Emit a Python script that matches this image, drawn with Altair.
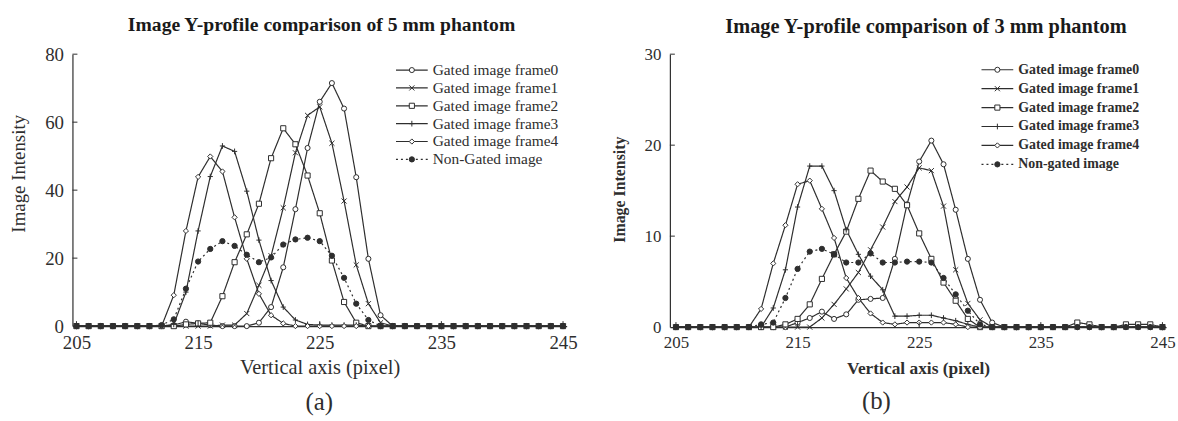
import altair as alt
import pandas as pd

# ---------------- data ----------------
x_pixels = [205, 206, 207, 208, 209, 210, 211, 212, 213, 214, 215, 216, 217, 218,
            219, 220, 221, 222, 223, 224, 225, 226, 227, 228, 229, 230, 231, 232,
            233, 234, 235, 236, 237, 238, 239, 240, 241, 242, 243, 244, 245]

series_keys = ["f0", "f1", "f2", "f3", "f4", "ng"]
labels_a = ["Gated image frame0", "Gated image frame1", "Gated image frame2",
            "Gated image frame3", "Gated image frame4", "Non-Gated image"]
labels_b = ["Gated image frame0", "Gated image frame1", "Gated image frame2",
            "Gated image frame3", "Gated image frame4", "Non-gated image"]

# (a) 5 mm phantom
a_f0 = [0, 0, 0, 0, 0, 0, 0, 0,
        0.3, 1.3, 0.8, 0.3, 0, 0, 0, 1.0, 5.6, 17.3, 34.4, 52.4, 66.0, 71.5, 64.0, 43.8, 19.8, 3.2, 0,
        0, 0, 0, 0, 0, 0, 0, 0, 0, 0, 0, 0, 0, 0]
a_f1 = [0, 0, 0, 0, 0, 0, 0, 0,
        0, 0, 0, 0, 0.3, 0.3, 3.7, 12.0, 20.7, 34.8, 51.0, 62.0, 64.5, 53.8, 36.8, 18.0, 6.6, 1.0, 0,
        0, 0, 0, 0, 0, 0, 0, 0, 0, 0, 0, 0, 0, 0]
a_f2 = [0, 0, 0, 0, 0, 0, 0, 0,
        0, 0.5, 0.8, 1.0, 8.8, 18.8, 27.0, 36.0, 49.4, 58.2, 53.5, 44.3, 33.2, 19.3, 7.1, 1.0, 0, 0, 0,
        0, 0, 0, 0, 0, 0, 0, 0, 0, 0, 0, 0, 0, 0]
a_f3 = [0, 0, 0, 0, 0, 0, 0, 0,
        0.5, 10.0, 28.0, 44.0, 53.0, 51.4, 39.7, 25.3, 13.4, 5.6, 1.8, 0.5, 0.3, 0.3, 0.3, 0.3, 0, 0, 0,
        0, 0, 0, 0, 0, 0, 0, 0, 0, 0, 0, 0, 0, 0]
a_f4 = [0, 0, 0, 0, 0, 0, 0, 0,
        9.1, 28.0, 43.9, 49.9, 45.5, 32.0, 19.8, 9.5, 3.2, 0.8, 0, 0, 0, 0, 0, 0, 0, 0, 0,
        0, 0, 0, 0, 0, 0, 0, 0, 0, 0, 0, 0, 0, 0]
a_ng = [0, 0, 0, 0, 0, 0, 0, 0.3,
        2.0, 11.0, 19.0, 22.7, 25.0, 23.6, 21.0, 18.8, 20.2, 24.0, 25.5, 26.0, 25.0, 20.7, 14.2, 6.6, 1.8, 0, 0,
        0, 0, 0, 0, 0, 0, 0, 0, 0, 0, 0, 0, 0, 0]

# (b) 3 mm phantom
b_f0 = [0, 0, 0, 0, 0, 0, 0, 0,
        0, 0, 0.5, 1.0, 1.7, 0.9, 1.4, 3.0, 3.1, 3.2, 7.5, 13.5, 18.2, 20.5, 17.9, 12.9, 7.5, 3.0, 0.5,
        0, 0, 0, 0, 0, 0, 0, 0, 0, 0, 0, 0, 0, 0]
b_f1 = [0, 0, 0, 0, 0, 0, 0, 0,
        0, 0, 0, 0, 1.0, 2.5, 4.2, 6.0, 8.5, 11.0, 13.8, 15.4, 17.5, 17.2, 13.3, 6.3, 2.6, 0.8, 0,
        0, 0, 0, 0, 0, 0, 0, 0, 0, 0, 0, 0, 0, 0]
b_f2 = [0, 0, 0, 0, 0, 0, 0, 0,
        0, 0.3, 0.9, 2.5, 5.3, 8.0, 10.5, 14.1, 17.2, 16.0, 15.2, 13.4, 10.3, 7.5, 4.9, 2.9, 0.9, 0, 0,
        0, 0, 0, 0, 0, 0, 0.5, 0.3, 0, 0, 0.3, 0.3, 0.3, 0]
b_f3 = [0, 0, 0, 0, 0, 0, 0, 0,
        2.1, 6.3, 13.2, 17.7, 17.7, 15.0, 10.7, 8.0, 5.6, 4.1, 1.2, 1.2, 1.3, 1.3, 1.0, 0.7, 0.3, 0, 0,
        0, 0, 0, 0, 0, 0, 0, 0, 0, 0, 0, 0, 0, 0]
b_f4 = [0, 0, 0, 0, 0, 0, 0, 2.0,
        7.0, 11.2, 15.7, 16.1, 13.0, 9.8, 5.4, 3.2, 1.5, 0.5, 0.3, 0.5, 0.5, 0.5, 0.5, 0.3, 0, 0, 0,
        0, 0, 0, 0, 0, 0, 0, 0, 0, 0, 0, 0, 0, 0]
b_ng = [0, 0, 0, 0, 0, 0, 0, 0.3,
        0.5, 3.2, 6.4, 8.3, 8.6, 8.0, 7.1, 7.1, 8.1, 7.1, 7.1, 7.2, 7.2, 7.1, 5.4, 3.6, 1.8, 0.3, 0,
        0, 0, 0, 0, 0, 0, 0, 0, 0, 0, 0, 0, 0, 0]

x_ticks = [205, 215, 225, 235, 245]
y_ticks_a = [0, 20, 40, 60, 80]
y_ticks_b = [0, 10, 20, 30]

# ---------------- styling ----------------
SERIF = "Liberation Serif"
INK = "#2e2e2e"
shape_range = ["circle", "M-1,-1L1,1M-1,1L1,-1", "square", "M0,-1.1L0,1.1M-1,0L1,0", "diamond", "circle"]
fill_range = ["white", "white", "white", "white", "white", INK]
size_range = [26, 28, 24, 40, 30, 20]
dash_range = [[1, 0], [1, 0], [1, 0], [1, 0], [1, 0], [2, 3]]


def long_df(vals_list):
    rows = []
    for key, vals in zip(series_keys, vals_list):
        for x, v in zip(x_pixels, vals):
            rows.append({"x": x, "value": v, "series": key})
    return pd.DataFrame(rows)


def panel(df, labels, yvals, w, h, xdom, title, title_size, title_dx, bold, ylab_size, ytitle_size,
          ytitle_x, ytitle_y, xlab_size, xtitle_size, leg_x0, leg_x1, leg_tx, leg_range, leg_font,
          tag, tag_dx, title_offset):
    weight = "bold" if bold else "normal"
    xs = alt.Scale(domain=xdom, nice=False, zero=False)
    ys = alt.Scale(domain=[yvals[0], yvals[-1]], nice=False)
    shape_s = alt.Scale(domain=series_keys, range=shape_range)
    fill_s = alt.Scale(domain=series_keys, range=fill_range)
    size_s = alt.Scale(domain=series_keys, range=size_range)
    dash_s = alt.Scale(domain=series_keys, range=dash_range)

    base = alt.Chart(df)
    lines = base.mark_line(strokeWidth=1.2, color=INK).encode(
        x=alt.X("x:Q", scale=xs, axis=alt.Axis(
            values=x_ticks, ticks=False, grid=False, domainColor=INK, domainWidth=1.2,
            labelFont=SERIF, labelFontSize=xlab_size, labelColor=INK, labelPadding=8,
            title="Vertical axis (pixel)", titleFont=SERIF, titleFontSize=xtitle_size,
            titleFontWeight=weight, titleColor=INK, titleY=42, titleBaseline="middle")),
        y=alt.Y("value:Q", scale=ys, axis=alt.Axis(
            values=yvals, ticks=False, grid=False, domainColor=INK, domainWidth=1.2,
            labelFont=SERIF, labelFontSize=ylab_size, labelColor=INK, labelPadding=9,
            title="Image Intensity", titleFont=SERIF, titleFontSize=ytitle_size,
            titleFontWeight=weight, titleColor=INK, titleX=ytitle_x, titleY=ytitle_y,
            titleAngle=-90, titleAlign="center", titleBaseline="middle")),
        detail="series:N",
        strokeDash=alt.StrokeDash("series:N", scale=dash_s, legend=None),
    )
    points = base.mark_point(filled=True, stroke=INK, strokeWidth=1, opacity=1).encode(
        x=alt.X("x:Q", scale=xs),
        y=alt.Y("value:Q", scale=ys, axis=None),
        shape=alt.Shape("series:N", scale=shape_s, legend=None),
        fill=alt.Fill("series:N", scale=fill_s, legend=None),
        size=alt.Size("series:N", scale=size_s, legend=None),
    )
    ytick_df = pd.DataFrame({"t": yvals[1:]})
    yticks = alt.Chart(ytick_df).mark_rule(color=INK, strokeWidth=1).encode(
        y=alt.Y("t:Q", scale=ys, axis=None), x=alt.value(0), x2=alt.value(5))
    xtick_df = pd.DataFrame({"t": x_ticks})
    xticks = alt.Chart(xtick_df).mark_rule(color=INK, strokeWidth=1).encode(
        x=alt.X("t:Q", scale=xs), y=alt.value(h), y2=alt.value(h - 5))

    leg_df = pd.DataFrame({"series": series_keys, "label": labels, "rank": [0, 1, 2, 3, 4, 5]})
    ls = alt.Scale(domain=[0, 5], range=leg_range)
    leg_rule = alt.Chart(leg_df).mark_rule(color=INK, strokeWidth=1.2).encode(
        x=alt.value(leg_x0), x2=alt.value(leg_x1),
        y=alt.Y("rank:Q", scale=ls, axis=None),
        strokeDash=alt.StrokeDash("series:N", scale=dash_s, legend=None))
    leg_pt = alt.Chart(leg_df).mark_point(filled=True, stroke=INK, strokeWidth=1, opacity=1).encode(
        x=alt.value((leg_x0 + leg_x1) / 2),
        y=alt.Y("rank:Q", scale=ls, axis=None),
        shape=alt.Shape("series:N", scale=shape_s, legend=None),
        fill=alt.Fill("series:N", scale=fill_s, legend=None),
        size=alt.Size("series:N", scale=size_s, legend=None))
    leg_txt = alt.Chart(leg_df).mark_text(
        align="left", baseline="middle", font=SERIF, fontSize=leg_font,
        fontWeight=weight, color=INK).encode(
        x=alt.value(leg_tx), y=alt.Y("rank:Q", scale=ls, axis=None), text="label:N")

    layered = alt.layer(lines, points, yticks, xticks, leg_rule, leg_pt, leg_txt).resolve_scale(
        y="independent").properties(
        width=w, height=h,
        title=alt.TitleParams(title, font=SERIF, fontSize=title_size, fontWeight="bold", color="#1a1a1a",
                              anchor="middle", frame="group", offset=title_offset, dx=title_dx))
    return alt.vconcat(layered, title=alt.TitleParams(
        tag, orient="bottom", font=SERIF, fontSize=25, fontWeight="normal", color=INK,
        anchor="middle", offset=12, dx=tag_dx))


left = panel(long_df([a_f0, a_f1, a_f2, a_f3, a_f4, a_ng]), labels_a, y_ticks_a,
             498, 274, [204.67, 245.3], "Image Y-profile comparison of 5 mm phantom", 19.8, 2, False,
             19, 19, -54, 120, 19, 20.5, 326, 358, 363, [16, 106], 15.5, "(a)", 26, 11)
right = panel(long_df([b_f0, b_f1, b_f2, b_f3, b_f4, b_ng]), labels_b, y_ticks_b,
              500, 275, [204.5, 245.3], "Image Y-profile comparison of 3 mm phantom", 20.5, 8, True,
              17, 16, -51, 136, 17, 17.5, 314, 346, 351, [15.7, 111], 14, "(b)", -17, 8)

chart = alt.hconcat(left, right, spacing=34).properties(
    padding={"left": 10, "top": 13, "right": 2, "bottom": 2},
    background="white",
).configure_view(stroke=None)

chart.save("out.html", embed_options={"renderer": "svg", "actions": False})
